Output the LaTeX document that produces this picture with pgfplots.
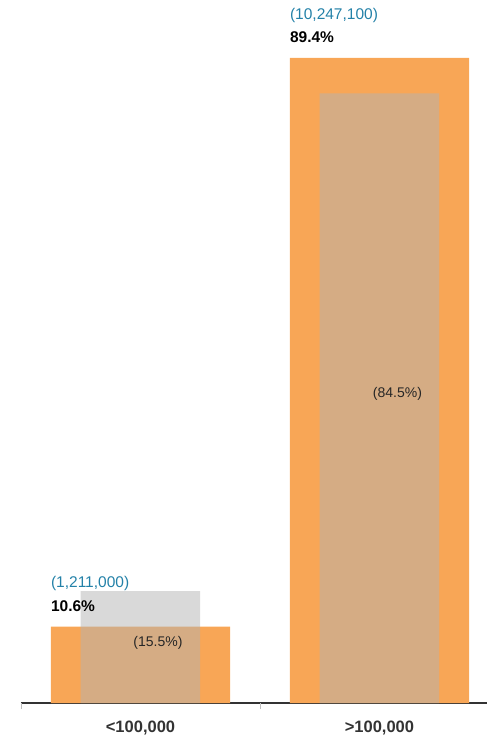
\documentclass[border=0pt]{standalone}
\usepackage{pgfplots}
\pgfplotsset{compat=1.18}
\usepackage{fontspec}
\setmainfont{Liberation Sans}
\definecolor{barorange}{HTML}{F8A656}
\definecolor{bargrey}{HTML}{B3B3B3}
\definecolor{lblblue}{HTML}{2381A8}
\definecolor{axisdark}{HTML}{333333}
\begin{document}
\begin{tikzpicture}
\begin{axis}[
  scale only axis,
  width=466pt, height=703pt,
  xmin=-0.5, xmax=1.45,
  ymin=0, ymax=97.43,
  axis x line=bottom,
  axis y line=none,
  x axis line style={-, draw=axisdark, line width=1.5pt},
  xtick={0,1},
  xticklabels={{<100,000}, {>100,000}},
  major tick length=0pt,
  xticklabel style={font=\fontsize{16.5}{18}\selectfont\bfseries, text=axisdark, yshift=-14pt},
  extra x ticks={-0.5,0.5},
  extra x tick labels={},
  extra x tick style={major tick length=6pt, tick style={draw=black!25, line width=0.8pt}, tick align=outside},
  clip=false,
]
\addplot[ybar, bar shift=0pt, bar width=0.75, fill=barorange, draw=none] coordinates {(0,10.6) (1,89.4)};
\addplot[ybar, bar shift=0pt, bar width=0.5, fill=bargrey, fill opacity=0.5, draw=none] coordinates {(0,15.5) (1,84.5)};
% labels
\node[anchor=west, inner sep=0pt, text=lblblue, font=\fontsize{15.5}{17}\selectfont] at ([yshift=43pt]axis cs:-0.375,10.6) {(1,211,000)};
\node[anchor=west, inner sep=0pt, font=\fontsize{15.5}{17}\selectfont\bfseries] at ([yshift=20pt]axis cs:-0.375,10.6) {10.6\%};
\node[anchor=west, inner sep=0pt, text=lblblue, font=\fontsize{15.5}{17}\selectfont] at ([yshift=42pt]axis cs:0.625,89.4) {(10,247,100)};
\node[anchor=west, inner sep=0pt, font=\fontsize{15.5}{17}\selectfont\bfseries] at ([yshift=21pt]axis cs:0.625,89.4) {89.4\%};
\node[inner sep=0pt, text=black!85, font=\fontsize{14}{16}\selectfont] at ([xshift=17.5pt,yshift=4pt]axis cs:0,7.75) {(15.5\%)};
\node[inner sep=0pt, text=black!85, font=\fontsize{14}{16}\selectfont] at ([xshift=18pt,yshift=4pt]axis cs:1,42.25) {(84.5\%)};
\end{axis}
\pgfresetboundingbox
\path (-21pt,-32pt) rectangle (466pt,703pt);
\end{tikzpicture}
\end{document}
